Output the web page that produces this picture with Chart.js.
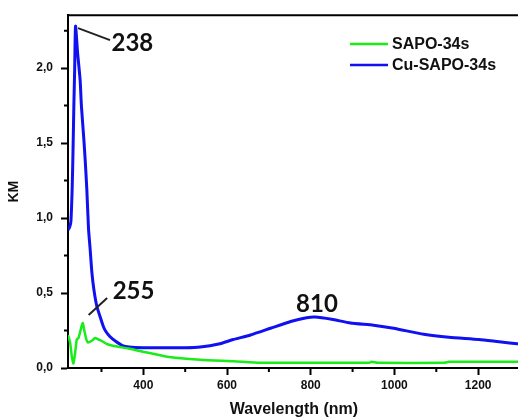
<!DOCTYPE html>
<html>
<head>
<meta charset="utf-8">
<script src="https://cdn.jsdelivr.net/npm/chart.js@4"></script>
<style>
  html, body { margin: 0; padding: 0; background: #fff; overflow: hidden; }
  #wrap { position: relative; width: 530px; height: 419px; }
</style>
</head>
<body>
<div id="wrap"><canvas id="kmChart"></canvas></div>
<script>
// Espectros UV-Vis-NIR (Kubelka-Munk)
const seriesNames = ['SAPO-34s', 'Cu-SAPO-34s'];

const lambdaSapo = [220, 225, 229, 233, 237, 241, 245, 249, 255, 259, 264, 268, 276, 285, 293, 301, 313, 325, 345, 365, 397, 457, 536, 615, 680, 800, 940, 945, 960, 1120, 1130, 1300];
const kmSapo     = [0.22, 0.17, 0.08, 0.03, 0.10, 0.19, 0.20, 0.24, 0.30, 0.25, 0.19, 0.17, 0.18, 0.20, 0.19, 0.18, 0.16, 0.15, 0.14, 0.13, 0.11, 0.075, 0.055, 0.045, 0.035, 0.035, 0.035, 0.042, 0.035, 0.035, 0.042, 0.042];

const lambdaCu = [220, 224, 227, 230, 232, 234, 236, 238, 243, 249, 252, 258, 261, 265, 269, 273, 277, 282, 289, 297, 304, 309, 320, 333, 350, 366, 400, 450, 500, 536, 580, 615, 656, 704, 752, 790, 810, 850, 895, 950, 998, 1070, 1130, 1202, 1250, 1300];
const kmCu     = [0.92, 0.94, 0.98, 1.20, 1.45, 1.75, 2.00, 2.28, 2.10, 1.92, 1.75, 1.52, 1.39, 1.19, 0.93, 0.79, 0.64, 0.52, 0.41, 0.34, 0.28, 0.25, 0.21, 0.18, 0.15, 0.14, 0.135, 0.135, 0.135, 0.14, 0.16, 0.19, 0.22, 0.265, 0.31, 0.335, 0.34, 0.325, 0.30, 0.285, 0.265, 0.225, 0.205, 0.19, 0.175, 0.16];

const xTicks = [400, 600, 800, 1000, 1200];
const xMinorTicks = [300, 500, 700, 900, 1100, 1300];
const yTicks = [0, 0.5, 1.0, 1.5, 2.0];
const yMinorTicks = [0.25, 0.75, 1.25, 1.75, 2.25];

// picos marcados: [série, comprimento de onda, rótulo]
const peakLabels = [
  [1, 238, '238'],
  [0, 255, '255'],
  [1, 810, '810']
];

const toPoints = (xs, ys) => xs.map((x, i) => ({ x: x, y: ys[i] }));

const frame = {
  id: 'frame',
  afterDraw(chart) {
    const { ctx, chartArea: a, scales: { x, y } } = chart;
    ctx.save();
    ctx.strokeStyle = '#000';
    ctx.lineWidth = 2;
    // borda superior
    ctx.beginPath();
    ctx.moveTo(a.left - 1, a.top);
    ctx.lineTo(a.right, a.top);
    ctx.stroke();
    // ticks menores
    ctx.beginPath();
    xMinorTicks.forEach(v => {
      const px = x.getPixelForValue(v);
      ctx.moveTo(px, a.bottom);
      ctx.lineTo(px, a.bottom + 4);
    });
    yMinorTicks.forEach(v => {
      const py = y.getPixelForValue(v);
      ctx.moveTo(a.left, py);
      ctx.lineTo(a.left - 4, py);
    });
    ctx.stroke();

    // legenda
    ctx.font = 'bold 16px "Liberation Sans", Arial, sans-serif';
    ctx.textBaseline = 'middle';
    ctx.fillStyle = '#111';
    chart.data.datasets.forEach((ds, i) => {
      const ly = 44 + i * 21;
      ctx.strokeStyle = ds.borderColor;
      ctx.lineWidth = 2.5;
      ctx.beginPath();
      ctx.moveTo(350, ly);
      ctx.lineTo(388, ly);
      ctx.stroke();
      ctx.fillText(ds.label, 392, ly + 1);
    });

    // rótulos dos picos
    ctx.font = 'bold 24px Lato, sans-serif';
    ctx.strokeStyle = '#222';
    ctx.lineWidth = 2;
    peakLabels.forEach(([si, wl, txt]) => {
      const xs = si === 0 ? lambdaSapo : lambdaCu;
      const ys = si === 0 ? kmSapo : kmCu;
      const px = x.getPixelForValue(wl);
      const py = y.getPixelForValue(ys[xs.indexOf(wl)]);
      if (wl === 238) {
        ctx.beginPath();
        ctx.moveTo(px + 2.5, py + 2);
        ctx.lineTo(px + 34.5, py + 14);
        ctx.stroke();
        ctx.textAlign = 'left';
        ctx.fillText(txt, px + 36, py + 17);
      } else if (wl === 255) {
        ctx.beginPath();
        ctx.moveTo(px + 6, py - 8);
        ctx.lineTo(px + 24.5, py - 25);
        ctx.stroke();
        ctx.textAlign = 'left';
        ctx.fillText(txt, px + 30, py - 32);
      } else {
        ctx.textAlign = 'center';
        ctx.fillText(txt, px + 2, py - 13);
      }
    });
    ctx.restore();
  }
};

new Chart(document.getElementById('kmChart'), {
  type: 'line',
  data: {
    datasets: [
      {
        label: seriesNames[0],
        data: toPoints(lambdaSapo, kmSapo),
        borderColor: '#19ec19',
        borderWidth: 2.5,
        pointRadius: 0,
        tension: 0.2
      },
      {
        label: seriesNames[1],
        data: toPoints(lambdaCu, kmCu),
        borderColor: '#1010f0',
        borderWidth: 3,
        pointRadius: 0,
        tension: 0.2
      }
    ]
  },
  options: {
    responsive: true,
    maintainAspectRatio: false,
    animation: false,
    layout: { padding: { top: 15, right: 10, left: 0, bottom: 0 } },
    plugins: { legend: { display: false }, tooltip: { enabled: false } },
    scales: {
      x: {
        type: 'linear',
        min: 220,
        max: 1300,
        afterBuildTicks: s => { s.ticks = xTicks.map(v => ({ value: v })); },
        afterFit: s => { s.height = 51; },
        border: { display: true, color: '#000', width: 2 },
        grid: { drawOnChartArea: false, drawTicks: true, tickLength: 7, tickWidth: 2, tickColor: '#000' },
        ticks: {
          color: '#111',
          padding: 3,
          maxRotation: 0,
          font: { family: '"Liberation Sans", Arial, sans-serif', size: 12, weight: 'bold' },
          callback: v => String(v)
        },
        title: {
          display: true,
          text: 'Wavelength (nm)',
          color: '#111',
          padding: { top: 0, bottom: 0 },
          font: { family: '"Liberation Sans", Arial, sans-serif', size: 16, weight: 'bold' }
        }
      },
      y: {
        min: 0,
        max: 2.353,
        afterBuildTicks: s => { s.ticks = yTicks.map(v => ({ value: v })); },
        afterFit: s => { s.width = 68; },
        border: { display: true, color: '#000', width: 2 },
        grid: { drawOnChartArea: false, drawTicks: true, tickLength: 7, tickWidth: 2, tickColor: '#000' },
        ticks: {
          color: '#111',
          padding: 8,
          font: { family: '"Liberation Sans", Arial, sans-serif', size: 12, weight: 'bold' },
          callback: v => v.toFixed(1).replace('.', ',')
        },
        title: {
          display: true,
          text: 'KM',
          color: '#111',
          padding: { top: 6, bottom: 0 },
          font: { family: '"Liberation Sans", Arial, sans-serif', size: 14, weight: 'bold' }
        }
      }
    }
  },
  plugins: [frame]
});
</script>
</body>
</html>
